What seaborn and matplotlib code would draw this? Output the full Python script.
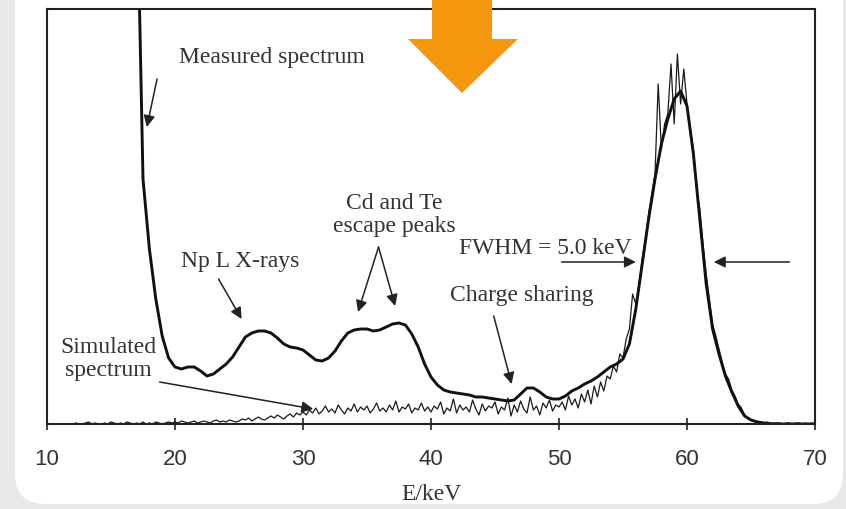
import numpy as np
import pandas as pd
import matplotlib
matplotlib.use("Agg")
import matplotlib.pyplot as plt
from matplotlib.patches import FancyBboxPatch, Polygon
from matplotlib.transforms import IdentityTransform
import seaborn as sns

# measured spectrum, 16.5 - 70 keV in 0.5 keV steps (counts, arbitrary units)
meas_E = np.arange(16.5, 70.01, 0.5)
meas_counts = [900, 560, 245, 175, 125, 88, 66, 57, 55, 57, 57,
               53, 48, 50, 55, 60, 67, 77, 87, 91, 93,
               93, 91, 86, 80, 77, 76, 74, 69, 64, 63,
               66, 73, 83, 91, 94, 95, 95, 93, 94, 97,
               100, 101, 99, 90, 77, 60, 47, 39, 34, 32,
               31, 30, 29, 27, 27, 26, 25, 24, 23, 24,
               30, 36, 36, 32, 27, 25, 25, 28, 33, 36,
               40, 43, 47, 52, 57, 60, 65, 80, 115, 160,
               205, 245, 280, 305, 325, 333, 318, 270, 205, 140,
               95, 70, 48, 32, 18, 8, 4, 2, 1, 0,
               0, 0, 0, 0, 0, 0, 0]

# simulated spectrum, 12 - 70 keV in 0.25 keV steps
sim_E = np.arange(12, 70.001, 0.25)
sim_counts = [0, 1, 0, 0, 1, 2, 0, 1, 0, 0, 1, 0, 2, 1, 0, 1,
              0, 2, 1, 0, 1, 0, 2, 0, 1, 0, 2, 1, 0, 1, 2, 1,
              2, 1, 3, 2, 1, 2, 3, 1, 2, 3, 2, 1, 3, 4, 2, 3, 2, 4, 3, 2,
              3, 5, 4, 6, 3, 5, 7, 5, 4, 6, 8, 6, 9, 7, 5, 8, 10, 7, 11, 9,
              12, 9, 14, 11, 16, 10, 13, 18, 12, 15, 11, 19, 14, 10, 16, 13, 20, 12, 17, 14,
              18, 11, 15, 21, 13, 16, 12, 19, 14, 23, 12, 17, 15, 20, 11, 16, 14, 21, 13, 17,
              12, 18, 15, 22, 10, 16, 13, 25, 11, 19, 14, 17, 12, 24, 15, 9, 20, 13, 18, 16,
              22, 10, 17, 14, 26, 8, 19, 12, 23, 15, 11, 27, 14, 18, 9, 21, 16, 24, 13, 19,
              17, 22, 14, 28, 19, 25, 16, 30, 22, 34, 20, 38, 27, 42, 33, 48,
              45, 58, 52, 70, 66, 85, 95, 130,
              120, 140, 165, 185, 210, 230, 250, 340, 275, 300, 310, 360, 300, 370, 320, 355,
              320, 295, 275, 235, 215, 180, 150, 125, 100, 88, 75, 62, 50, 45, 34, 28, 20, 16, 9, 6,
              4, 3, 2, 2, 1, 2, 1, 1, 1, 1, 0, 1, 1, 0, 1, 1, 0, 1, 0, 1, 0]

x_ticks = [10, 20, 30, 40, 50, 60, 70]

meas_df = pd.DataFrame({"E": meas_E, "counts": meas_counts})
sim_df = pd.DataFrame({"E": sim_E, "counts": sim_counts})

sns.set_style("white")
plt.rcParams['font.family'] = ['Liberation Serif', 'DejaVu Serif']

fig = plt.figure(figsize=(8.46, 5.10), dpi=100, facecolor='#e7e9e6')

# white slide panel behind the chart
panel = FancyBboxPatch((15, 5), 828, 560, boxstyle="round,pad=0,rounding_size=30",
                       transform=IdentityTransform(), facecolor='white', edgecolor='none',
                       zorder=-10)
fig.add_artist(panel)

ax = fig.add_axes([47 / 846, 85 / 510, 768 / 846, 415 / 510])
ax.set_facecolor('white')

sns.lineplot(data=sim_df, x="E", y="counts", ax=ax, color='#1a1a1a', lw=0.9, estimator=None)
sns.lineplot(data=meas_df, x="E", y="counts", ax=ax, color='#111111', lw=2.1, estimator=None)

ax.set_xlim(10, 70)
ax.set_ylim(0, 415)
ax.set_yticks([])
ax.set_xticks(x_ticks)
ax.set_xticklabels([str(t) for t in x_ticks], family='Liberation Sans', fontsize=16, color='#333333')
ax.tick_params(axis='x', bottom=True, direction='inout', length=9, width=1.2,
               color='#222222', pad=13)
ax.set_ylabel('')
ax.set_xlabel('E/keV', fontsize=17, color='#333333', labelpad=10)
for sp in ax.spines.values():
    sp.set_visible(True)
    sp.set_color('#222222')
    sp.set_linewidth(1.5)

txt = dict(fontsize=17, color='#333333', ha='center', va='center')
arw = dict(arrowstyle='-|>', color='#222222', lw=1.1, mutation_scale=17, shrinkA=0, shrinkB=0)

ax.text(27.6, 367, 'Measured spectrum', **txt)
ax.annotate('', xy=(17.8, 297), xytext=(18.6, 345), arrowprops=arw)

ax.text(25.1, 163, 'Np L X-rays', **txt)
ax.annotate('', xy=(25.2, 105), xytext=(23.4, 145), arrowprops=arw)

ax.text(37.1, 210, 'Cd and Te\nescape peaks', linespacing=1.15, **txt)
ax.annotate('', xy=(34.3, 112), xytext=(35.9, 177), arrowprops=arw)
ax.annotate('', xy=(37.2, 118), xytext=(35.9, 177), arrowprops=arw)

ax.text(48.9, 176, 'FWHM = 5.0 keV', **txt)
ax.annotate('', xy=(56.0, 162), xytext=(50.2, 162), arrowprops=arw)
ax.annotate('', xy=(62.1, 162), xytext=(68.0, 162), arrowprops=arw)

ax.text(47.1, 129, 'Charge sharing', **txt)
ax.annotate('', xy=(46.3, 40), xytext=(44.9, 108), arrowprops=arw)

ax.text(14.8, 66, 'Simulated\nspectrum', linespacing=1.15, **txt)
ax.annotate('', xy=(30.8, 15), xytext=(18.8, 42), arrowprops=arw)

# orange arrow from the slide, drawn over the chart
pts = [(432, 0), (492, 0), (492, 40), (518, 40), (462, 94), (408, 40), (432, 40)]
arrow = Polygon([(px / 846, 1 - py / 510) for px, py in pts], closed=True,
                transform=fig.transFigure, facecolor='#f5960f', edgecolor='none', zorder=10)
fig.add_artist(arrow)

fig.savefig('out.png', dpi=100, facecolor=fig.get_facecolor())
